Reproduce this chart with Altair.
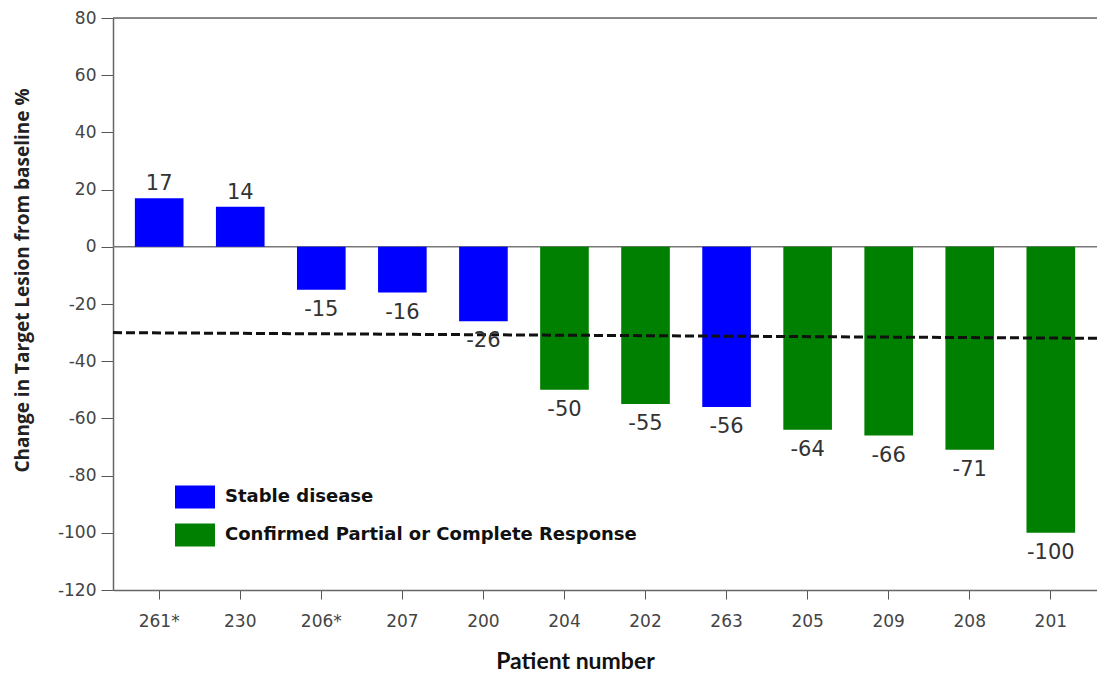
import altair as alt
import pandas as pd

patients = ["261*", "230", "206*", "207", "200", "204", "202", "263", "205", "209", "208", "201"]
changes = [17, 14, -15, -16, -26, -50, -55, -56, -64, -66, -71, -100]
status = ["Stable disease"] * 5 + ["Confirmed Partial or Complete Response"] * 2 + ["Stable disease"] + ["Confirmed Partial or Complete Response"] * 4
categories = ["Stable disease", "Confirmed Partial or Complete Response"]
colors = ["#0000FF", "#008000"]
y_ticks = [-120, -100, -80, -60, -40, -20, 0, 20, 40, 60, 80]
threshold_start = -30
threshold_end = -32

df = pd.DataFrame({"patient": patients, "change": changes, "status": status,
                   "label": [str(v) for v in changes]})

W, H = 984, 572
TICK_FONT = "DejaVu Sans"

x_enc = alt.X("patient:N", sort=patients,
              scale=alt.Scale(paddingInner=0.4, paddingOuter=0.27),
              axis=alt.Axis(title="Patient number", labelAngle=0, labelFont=TICK_FONT,
                            labelFontSize=17, labelColor="#444", labelPadding=14,
                            tickSize=9, tickColor="#555", domainColor="#666", domainWidth=1.5,
                            titleFont="Lato", titleFontSize=23, titleFontWeight="bold",
                            titleColor="#111", titleX=462, titleY=71, titleAlign="center",
                            titleBaseline="middle"))
y_scale = alt.Scale(domain=[-120, 80], nice=False)
y_axis = alt.Axis(title="Change in Target Lesion from  baseline %", values=y_ticks,
                  labelExpr="'' + datum.value",
                  grid=False, labelFont=TICK_FONT, labelFontSize=17, labelColor="#444",
                  labelPadding=5, tickSize=12, tickColor="#555", domainColor="#666", domainWidth=1.5,
                  titleFont="Open Sans", titleFontSize=19, titleFontWeight="bold", titleColor="#222",
                  titleX=-91, titleY=262, titleAlign="center", titleBaseline="middle")

bars = alt.Chart(df).mark_bar().encode(
    x=x_enc,
    y=alt.Y("change:Q", scale=y_scale, axis=y_axis),
    color=alt.Color("status:N", scale=alt.Scale(domain=categories, range=colors),
                    legend=alt.Legend(title=None, orient="none", legendX=62, legendY=459,
                                      symbolType="M-1,-0.575L1,-0.575L1,0.575L-1,0.575Z",
                                      symbolSize=1600, symbolStrokeWidth=0, symbolOpacity=1,
                                      labelFont="DejaVu Sans", labelFontSize=18, labelLimit=800,
                                      labelFontWeight="bold", labelColor="#111", labelOffset=10,
                                      rowPadding=6, padding=0)),
)

pos_text = alt.Chart(df).transform_filter("datum.change >= 0").mark_text(
    baseline="bottom", dy=-4, fontSize=21, font=TICK_FONT, color="#333"
).encode(x=alt.X("patient:N", sort=patients), y=alt.Y("change:Q"), text=alt.Text("label:N"))

neg_text = alt.Chart(df).transform_filter("datum.change < 0").mark_text(
    baseline="top", dy=9, fontSize=21, font=TICK_FONT, color="#333"
).encode(x=alt.X("patient:N", sort=patients), y=alt.Y("change:Q"), text=alt.Text("label:N"))

zero_line = alt.Chart(pd.DataFrame({"v": [0]})).mark_rule(color="#777", strokeWidth=1.5).encode(
    y=alt.Y("v:Q"), x=alt.value(0), x2=alt.value(W))

top_line = alt.Chart(pd.DataFrame({"v": [80]})).mark_rule(color="#666", strokeWidth=1.5).encode(
    y=alt.Y("v:Q"), x=alt.value(0), x2=alt.value(W))

thr = alt.Chart(pd.DataFrame({"a": [threshold_start], "b": [threshold_end]})).mark_rule(
    color="#111", strokeWidth=3, strokeDash=[9, 4]).encode(
    y=alt.Y("a:Q"), y2=alt.Y2("b:Q"), x=alt.value(0), x2=alt.value(W))

chart = alt.layer(zero_line, top_line, bars, thr, pos_text, neg_text).properties(
    width=W, height=H,
    autosize=alt.AutoSizeParams(type="none"),
    padding={"left": 105, "top": 10, "right": 0, "bottom": 84},
).configure_view(stroke=None).configure(background="white")

chart.save("out.html", embed_options={"renderer": "svg", "actions": False})
